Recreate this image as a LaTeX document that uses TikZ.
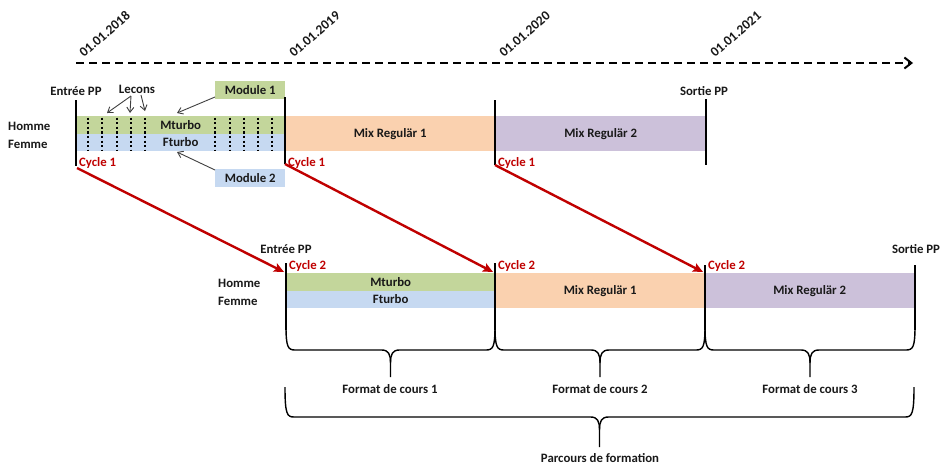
\documentclass[tikz,border=0pt]{standalone}
\usepackage{fontspec}
\setmainfont{Carlito}
\usetikzlibrary{arrows.meta}
\definecolor{cgreen}{HTML}{C3D69B}
\definecolor{cblue}{HTML}{C6D9F1}
\definecolor{corange}{HTML}{FAD1AF}
\definecolor{cpurple}{HTML}{CCC1DA}
\definecolor{cred}{HTML}{C00000}
\definecolor{cgray}{HTML}{404040}
\newcommand\mybrace[5]{%
  \pgfmathsetmacro\bxm{(#1+#2)/2}%
  \draw[brc] (#1,#3) .. controls (#1,#4-3) and (#1+2,#4) .. (#1+9,#4)
    -- (\bxm-9,#4) .. controls (\bxm-2,#4) and (\bxm,#4+4) .. (\bxm,#4+13)
    -- (\bxm,#5);
  \draw[brc] (\bxm,#4+13) .. controls (\bxm,#4+4) and (\bxm+2,#4) .. (\bxm+9,#4)
    -- (#2-9,#4) .. controls (#2-2,#4) and (#2,#4-3) .. (#2,#3);}
\begin{document}
\begin{tikzpicture}[x=1pt,y=-1pt,
  lbl/.style={font=\fontsize{12.8}{14}\selectfont\bfseries, text=black!90, inner sep=0pt},
  lblb/.style={lbl, anchor=base},
  lblw/.style={lbl, anchor=base west},
  cyc/.style={lbl, text=cred, anchor=base west},
  datelbl/.style={lbl, font=\fontsize{13.5}{15}\selectfont\bfseries, anchor=base west, rotate=41},
  band/.style={lbl, anchor=north west, minimum height=17.5pt},
  wband/.style={lbl, anchor=north west, minimum height=35pt},
  vline/.style={line width=2.6pt, black},
  dotl/.style={line width=2.4pt, black, dash pattern=on 2.3pt off 2.3pt},
  garrow/.style={cgray, line width=0.9pt, -{Straight Barb[length=5pt,width=7pt]}},
  rarrow/.style={cred, line width=2.4pt, -{Stealth[length=10pt,width=9pt,inset=2pt]}},
  brc/.style={line width=1.4pt, black, line join=round},
]
\useasboundingbox (0,0) rectangle (942,464);
\fill[white] (0,0) rectangle (942,464);

% timeline
\coordinate (tl0) at (76,63);
\coordinate (tl1) at (913,63);
\draw[line width=2pt, dash pattern=on 8pt off 5pt, -{Straight Barb[length=7pt,width=11pt]}] (tl0) -- (tl1);
\node[datelbl] (d18) at (84,58) {01.01.2018};
\node[datelbl] (d19) at (294,58) {01.01.2019};
\node[datelbl] (d20) at (504,58) {01.01.2020};
\node[datelbl] (d21) at (715,58) {01.01.2021};

% ---- top row ----
\node[band, fill=cgreen, minimum width=209pt] (tm) at (76,116) {Mturbo};
\node[band, fill=cblue, minimum width=209pt] (tf) at (76,133.5) {Fturbo};
\node[wband, fill=corange, minimum width=210pt] (tmx1) at (285,116) {Mix Regulär 1};
\node[wband, fill=cpurple, minimum width=211pt] (tmx2) at (495,116) {Mix Regulär 2};

\foreach \x in {88,102,117,131,145,215,230,244,258,272}
  \draw[dotl] (\x,117.5) -- (\x,151);

\node[lbl, fill=cgreen, minimum width=70pt, minimum height=18pt, anchor=north west] (mod1) at (215,81) {Module 1};
\node[lbl, fill=cblue, minimum width=70pt, minimum height=18pt, anchor=north west] (mod2) at (215,169) {Module 2};

\draw[vline] (76,100) -- (76,166);
\draw[vline] (285,97) -- (285,164);
\draw[vline] (495,100) -- (495,165);
\draw[vline] (706,99) -- (706,165);

\node[lblw] (h1) at (8,130) {Homme};
\node[lblw] (f1) at (8,148) {Femme};
\node[lblb] (e1) at (76,95) {Entrée PP};
\node[lblb] (s1) at (704,95) {Sortie PP};
\node[lblb] (lec) at (137,93) {Lecons};
\node[cyc] (c10) at (79,166) {Cycle 1};
\node[cyc] (c11) at (288,166) {Cycle 1};
\node[cyc] (c12) at (498,166) {Cycle 1};

\coordinate (la) at (107,113);
\coordinate (lb) at (130,113);
\coordinate (lc) at (145,111);
\coordinate (ls1) at (131,96);
\coordinate (ls2) at (141,95);
\draw[garrow] (ls1) -- (la);
\draw[garrow] (ls1) -- (lb);
\draw[garrow] (ls2) -- (lc);
\coordinate (m1t) at (177,113);
\coordinate (m2t) at (177,152);
\coordinate (m1s) at (215,97);
\coordinate (m2s) at (215,170);
\draw[garrow] (m1s) -- (m1t);
\draw[garrow] (m2s) -- (m2t);

% ---- bottom row ----
\node[band, fill=cgreen, minimum width=209pt] (bm) at (286,273) {Mturbo};
\node[band, fill=cblue, minimum width=209pt] (bf) at (286,290.5) {Fturbo};
\node[wband, fill=corange, minimum width=210pt] (bmx1) at (495,273) {Mix Regulär 1};
\node[wband, fill=cpurple, minimum width=209pt] (bmx2) at (705,273) {Mix Regulär 2};

\draw[vline] (286,263) -- (286,330);
\draw[vline] (495,263) -- (495,330);
\draw[vline] (705,265) -- (705,330);
\draw[vline] (915,265) -- (915,330);

\node[lblw] (h2) at (218,287) {Homme};
\node[lblw] (f2) at (218,305) {Femme};
\node[lblb] (e2) at (286,253) {Entrée PP};
\node[lblb] (s2) at (916,253) {Sortie PP};
\node[cyc] (c20) at (289,269) {Cycle 2};
\node[cyc] (c21) at (498,269) {Cycle 2};
\node[cyc] (c22) at (708,269) {Cycle 2};

% red arrows
\coordinate (ra0) at (77,168);
\coordinate (ra1) at (285,164);
\coordinate (ra2) at (495,165);
\coordinate (rb0) at (284,272);
\coordinate (rb1) at (493,272);
\coordinate (rb2) at (703,272);
\draw[rarrow] (ra0) -- (rb0);
\draw[rarrow] (ra1) -- (rb1);
\draw[rarrow] (ra2) -- (rb2);

% braces
\mybrace{286}{495}{326}{350}{377}
\mybrace{495}{705}{326}{350}{377}
\mybrace{705}{915}{326}{350}{377}
\mybrace{285}{914}{387}{417}{447}

\node[lblb] (fc1) at (390,393) {Format de cours 1};
\node[lblb] (fc2) at (600,393) {Format de cours 2};
\node[lblb] (fc3) at (810,393) {Format de cours 3};
\node[lblb] (pf) at (600,462) {Parcours de formation};
\end{tikzpicture}
\end{document}
